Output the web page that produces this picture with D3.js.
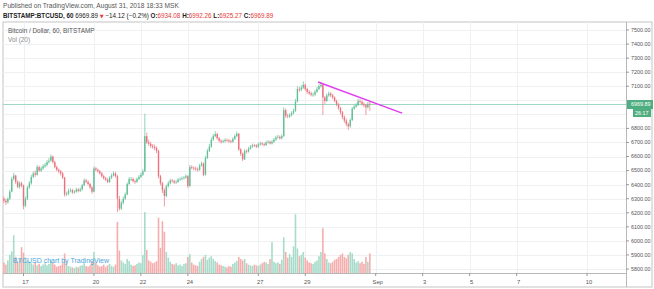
<!DOCTYPE html>
<html>
<head>
<meta charset="utf-8">
<script src="https://cdn.jsdelivr.net/npm/d3@7"></script>
<style>
  body { margin: 0; background: #fff; }
  svg { display: block; font-family: "Liberation Sans", Arial, sans-serif; }
</style>
</head>
<body>
<div id="chart"></div>
<script>
var w = 654;
var h = 289;

// 2 hour candles, first one Aug 16 04:00 UTC
var startTime = Date.UTC(2018, 7, 16, 4);
var firstOpen = 6300;

var closes = [
  6285, 6275, 6300, 6350, 6440, 6465, 6420, 6385, 6410, 6395,
  6250, 6300, 6380, 6410, 6455, 6480, 6470, 6525, 6500, 6515, 6530, 6540,
  6560, 6570, 6600, 6560, 6525, 6505, 6495, 6480, 6450, 6330, 6335, 6355,
  6360, 6345, 6350, 6365, 6355, 6365, 6395, 6430, 6420, 6405, 6380, 6350,
  6515, 6505, 6495, 6480, 6460, 6445, 6435, 6420, 6450, 6465, 6480, 6460,
  6300, 6230, 6270, 6300, 6330, 6405, 6440, 6440, 6425, 6420, 6440, 6455,
  6470, 6495, 6745, 6700, 6690, 6675, 6668, 6660, 6640, 6460, 6410, 6360,
  6320, 6390, 6410, 6430, 6425, 6415, 6420, 6435, 6440, 6445, 6450, 6460,
  6390, 6525, 6520, 6515, 6510, 6505, 6535, 6550, 6470, 6590, 6640, 6670,
  6720, 6745, 6760, 6730, 6712, 6705, 6710, 6718, 6715, 6708, 6705, 6725,
  6745, 6762, 6650, 6620, 6580, 6640, 6635, 6655, 6670, 6680, 6678, 6670,
  6685, 6693, 6688, 6682, 6700, 6705, 6693, 6705, 6720, 6735, 6740, 6730,
  6745, 6930, 6890, 6885, 6895, 6910, 6925, 6990, 7080, 7075, 7090, 7110,
  7080, 7060, 7050, 7040, 7040, 7060, 7080, 7100, 7110, 7020, 6995, 7035,
  7048, 7035, 7020, 6995, 6970, 6945, 6915, 6880, 6855, 6830, 6815, 6860,
  6940, 6955, 6965, 6995, 6990, 6975, 6965, 6950, 6975, 6969.89
];

var highs = [
  6315, 6300, 6310, 6365, 6455, 6485, 6470, 6430, 6425, 6420,
  6400, 6315, 6390, 6425, 6470, 6495, 6500, 6540, 6535, 6530, 6545, 6555,
  6575, 6590, 6615, 6605, 6570, 6535, 6515, 6505, 6490, 6455, 6350, 6370,
  6375, 6370, 6362, 6378, 6375, 6380, 6405, 6445, 6440, 6430, 6412, 6390,
  6530, 6525, 6515, 6505, 6490, 6470, 6455, 6445, 6460, 6478, 6495, 6490,
  6470, 6320, 6285, 6315, 6345, 6415, 6455, 6455, 6450, 6435, 6452, 6468,
  6485, 6510, 6905, 6770, 6720, 6705, 6690, 6685, 6672, 6648, 6470, 6420,
  6375, 6400, 6425, 6442, 6440, 6435, 6432, 6448, 6452, 6458, 6462, 6475,
  6468, 6540, 6538, 6530, 6528, 6522, 6548, 6565, 6558, 6605, 6655, 6690,
  6735, 6760, 6780, 6768, 6740, 6722, 6722, 6730, 6728, 6725, 6718, 6738,
  6758, 6778, 6768, 6660, 6628, 6652, 6650, 6668, 6682, 6692, 6690, 6688,
  6698, 6705, 6702, 6698, 6712, 6718, 6712, 6718, 6732, 6748, 6755, 6750,
  6758, 6950, 6940, 6905, 6908, 6922, 6940, 7010, 7100, 7095, 7108, 7135,
  7118, 7090, 7072, 7062, 7055, 7075, 7095, 7115, 7130, 7118, 7030, 7048,
  7062, 7058, 7045, 7028, 7005, 6980, 6955, 6925, 6892, 6868, 6842, 6872,
  6952, 6968, 6980, 7012, 7008, 6998, 6985, 6975, 6988, 6992.26
];

var lows = [
  6270, 6255, 6265, 6290, 6345, 6430, 6405, 6375, 6370, 6380,
  6225, 6240, 6290, 6370, 6400, 6445, 6455, 6465, 6490, 6490, 6505, 6520,
  6530, 6550, 6565, 6550, 6515, 6495, 6480, 6465, 6440, 6315, 6320, 6325,
  6345, 6335, 6335, 6342, 6345, 6348, 6358, 6390, 6410, 6395, 6370, 6335,
  6345, 6495, 6485, 6470, 6450, 6435, 6425, 6410, 6412, 6440, 6458, 6450,
  6205, 6215, 6220, 6260, 6290, 6325, 6395, 6425, 6415, 6405, 6412, 6432,
  6448, 6462, 6490, 6690, 6675, 6660, 6655, 6645, 6625, 6445, 6395, 6340,
  6245, 6310, 6380, 6400, 6415, 6405, 6405, 6412, 6428, 6430, 6436, 6442,
  6375, 6385, 6508, 6502, 6498, 6492, 6498, 6528, 6460, 6465, 6582, 6632,
  6662, 6712, 6738, 6720, 6700, 6692, 6695, 6700, 6705, 6698, 6694, 6698,
  6718, 6738, 6640, 6605, 6568, 6575, 6622, 6628, 6648, 6662, 6668, 6660,
  6662, 6678, 6678, 6672, 6675, 6692, 6685, 6686, 6698, 6712, 6728, 6720,
  6722, 6740, 6875, 6872, 6875, 6885, 6900, 6918, 6985, 7060, 7065, 7080,
  7068, 7045, 7038, 7028, 7025, 7032, 7052, 7072, 7090, 6895, 6975, 6988,
  7025, 7022, 7008, 6985, 6958, 6932, 6900, 6865, 6840, 6815, 6790, 6805,
  6852, 6932, 6945, 6958, 6978, 6962, 6950, 6895, 6940, 6925.27
];

var volumes = [
  150, 120, 180, 260, 310, 540, 230, 160, 200, 370,
  290, 220, 180, 160, 140, 120, 150, 110, 130, 100, 120, 140,
  110, 130, 180, 150, 120, 90, 100, 110, 140, 280, 150, 100,
  90, 80, 70, 90, 80, 100, 110, 140, 100, 90, 110, 170,
  300, 150, 110, 90, 100, 120, 90, 110, 130, 100, 90, 120,
  730, 320, 180, 150, 130, 200, 170, 120, 100, 110, 130, 150,
  140, 260, 870, 330, 180, 160, 140, 150, 170, 790, 360, 740,
  590, 300, 220, 160, 130, 120, 140, 110, 120, 100, 130, 140,
  230, 270, 150, 120, 110, 100, 160, 200, 230, 260, 190, 220,
  240, 200, 170, 150, 120, 110, 100, 90, 80, 100, 90, 130,
  150, 170, 230, 200, 180, 200, 140, 120, 110, 100, 120, 110,
  100, 120, 140, 160, 150, 130, 200, 440, 160, 140, 150, 130,
  190, 510, 300, 220, 270, 230, 380, 840, 350, 240, 260, 300,
  220, 180, 150, 140, 130, 160, 180, 240, 300, 640, 280, 200,
  150, 140, 160, 190, 200, 230, 260, 280, 230, 210, 260, 300,
  280, 200, 150, 170, 140, 160, 130, 230, 160, 280
];

var priceTicks = [7500, 7400, 7300, 7200, 7100, 7000, 6900, 6800, 6700, 6600,
  6500, 6400, 6300, 6200, 6100, 6000, 5900, 5800];

var dateTicks = [
  Date.UTC(2018, 7, 17), Date.UTC(2018, 7, 20), Date.UTC(2018, 7, 22),
  Date.UTC(2018, 7, 24), Date.UTC(2018, 7, 27), Date.UTC(2018, 7, 29),
  Date.UTC(2018, 8, 1), Date.UTC(2018, 8, 3), Date.UTC(2018, 8, 5),
  Date.UTC(2018, 8, 7), Date.UTC(2018, 8, 10)
];
var dateLabels = ["17", "20", "22", "24", "27", "29", "Sep", "3", "5", "7", "10"];

var lastPrice = 6969.89;
var trendTimes = [Date.UTC(2018, 7, 29, 13), Date.UTC(2018, 8, 2, 3)];
var trendPrices = [7130, 6909];

// pane geometry (not "top": that one belongs to window)
var paneL = 3, paneR = 626, paneT = 22, paneB = 273;

var svg = d3.select("#chart").append("svg")
  .attr("width", w)
  .attr("height", h);

var xScale = d3.scaleUtc()
  .domain([Date.UTC(2018, 7, 17), Date.UTC(2018, 8, 1)])
  .range([23.5, 375.7]);

var yScale = d3.scaleLinear()
  .domain([5800, 7500])
  .range([269, 30]);

var vScale = d3.scaleLinear()
  .domain([0, 1000])
  .range([paneB, paneB - 70]);

var candles = closes.map(function (c, i) {
  return {
    t: new Date(startTime + i * 2 * 3600 * 1000),
    o: i == 0 ? firstOpen : closes[i - 1], // open is the close before
    h: highs[i],
    l: lows[i],
    c: c,
    v: volumes[i]
  };
});

function upColor(d) { return d.c >= d.o ? "#62c097" : "#ec717d"; }

// header
svg.append("text")
  .attr("x", 3).attr("y", 8)
  .attr("font-size", "6.6px")
  .attr("fill", "#555")
  .text("Published on TradingView.com, August 31, 2018 18:33 MSK");

var head = svg.append("text")
  .attr("x", 3).attr("y", 17.5)
  .attr("font-size", "6.3px")
  .attr("fill", "#222");
head.append("tspan").attr("font-weight", "bold").text("BITSTAMP:BTCUSD, 60 ");
head.append("tspan").text("6969.89 ");
head.append("tspan").attr("fill", "#e53935").attr("font-family", "DejaVu Sans").attr("font-size", "5px").text("\u25BC");
head.append("tspan").text(" \u221214.12 (\u22120.2%) ");
var ohlc = [["O:", "6934.08"], ["H:", "6992.26"], ["L:", "6925.27"], ["C:", "6969.89"]];
ohlc.forEach(function (p) {
  head.append("tspan").attr("font-weight", "bold").text(p[0]);
  head.append("tspan").attr("fill", "#e53935").text(p[1] + " ");
});

// frame
svg.append("rect")
  .attr("x", paneL).attr("y", paneT)
  .attr("width", 652 - paneL).attr("height", 287 - paneT)
  .attr("fill", "none")
  .attr("stroke", "#c4c4c4")
  .attr("stroke-width", 1);

// grid
svg.selectAll(".hgrid")
  .data(priceTicks)
  .join("line")
  .attr("class", "hgrid")
  .attr("x1", paneL).attr("x2", paneR)
  .attr("y1", function (d) { return Math.round(yScale(d)) + 0.5; })
  .attr("y2", function (d) { return Math.round(yScale(d)) + 0.5; })
  .attr("stroke", "#eef0f4");

svg.selectAll(".vgrid")
  .data(dateTicks)
  .join("line")
  .attr("class", "vgrid")
  .attr("x1", function (d) { return Math.round(xScale(d)) + 0.5; })
  .attr("x2", function (d) { return Math.round(xScale(d)) + 0.5; })
  .attr("y1", paneT).attr("y2", paneB)
  .attr("stroke", "#eef0f4");

// legend text
svg.append("text")
  .attr("x", 8).attr("y", 33)
  .attr("font-size", "6.4px").attr("fill", "#555")
  .text("Bitcoin / Dollar, 60, BITSTAMP");
svg.append("text")
  .attr("x", 8).attr("y", 41.5)
  .attr("font-size", "6.4px").attr("fill", "#8a8a8a")
  .text("Vol (20)");

svg.append("clipPath").attr("id", "clip")
  .append("rect").attr("x", paneL).attr("y", paneT)
  .attr("width", paneR - paneL).attr("height", paneB - paneT);
var pane = svg.append("g").attr("clip-path", "url(#clip)");

// volume
pane.selectAll(".vol")
  .data(candles)
  .join("rect")
  .attr("class", "vol")
  .attr("x", function (d) { return xScale(d.t) - 0.8; })
  .attr("width", 1.6)
  .attr("y", function (d) { return vScale(d.v); })
  .attr("height", function (d) { return paneB - vScale(d.v); })
  .attr("fill", function (d) { return d.c >= d.o ? "#a6dcc9" : "#f5aeae"; });

// last price line
pane.append("line")
  .attr("x1", paneL).attr("x2", paneR)
  .attr("y1", yScale(lastPrice)).attr("y2", yScale(lastPrice))
  .attr("stroke", "#9fd8c3")
  .attr("stroke-width", 1);

// candles
pane.selectAll(".wick")
  .data(candles)
  .join("line")
  .attr("class", "wick")
  .attr("x1", function (d) { return xScale(d.t); })
  .attr("x2", function (d) { return xScale(d.t); })
  .attr("y1", function (d) { return yScale(d.h); })
  .attr("y2", function (d) { return yScale(d.l); })
  .attr("stroke", upColor)
  .attr("stroke-width", 0.7);

pane.selectAll(".body")
  .data(candles)
  .join("rect")
  .attr("class", "body")
  .attr("x", function (d) { return xScale(d.t) - 0.7; })
  .attr("width", 1.4)
  .attr("y", function (d) { return yScale(Math.max(d.o, d.c)); })
  .attr("height", function (d) { return Math.max(0.6, Math.abs(yScale(d.o) - yScale(d.c))); })
  .attr("fill", upColor);

// trend line
pane.append("line")
  .attr("x1", xScale(trendTimes[0])).attr("y1", yScale(trendPrices[0]))
  .attr("x2", xScale(trendTimes[1])).attr("y2", yScale(trendPrices[1]))
  .attr("stroke", "#e23cf0")
  .attr("stroke-width", 1.4);

// watermark
svg.append("text")
  .attr("x", 13).attr("y", 263)
  .attr("font-size", "7px").attr("fill", "#4aa5e0")
  .text("BTCUSD chart by TradingView");

// axis lines
svg.append("line")
  .attr("x1", paneR + 0.5).attr("x2", paneR + 0.5)
  .attr("y1", paneT).attr("y2", 287)
  .attr("stroke", "#b8b8b8");
svg.append("line")
  .attr("x1", paneL).attr("x2", paneR)
  .attr("y1", paneB + 0.5).attr("y2", paneB + 0.5)
  .attr("stroke", "#b8b8b8");

// price axis labels (7000 and 6900 sit under the last price tags)
var shown = priceTicks.filter(function (d) { return d != 7000 && d != 6900; });
svg.selectAll(".ptick")
  .data(shown)
  .join("line")
  .attr("class", "ptick")
  .attr("x1", paneR).attr("x2", paneR + 3)
  .attr("y1", function (d) { return yScale(d); })
  .attr("y2", function (d) { return yScale(d); })
  .attr("stroke", "#999");
svg.selectAll(".plabel")
  .data(shown)
  .join("text")
  .attr("class", "plabel")
  .attr("x", 631)
  .attr("y", function (d) { return yScale(d); })
  .attr("dy", "0.35em")
  .attr("font-size", "5.4px")
  .attr("fill", "#555")
  .text(function (d) { return d3.format(".2f")(d); });

// time axis labels
svg.selectAll(".dtick")
  .data(dateTicks)
  .join("line")
  .attr("class", "dtick")
  .attr("x1", function (d) { return xScale(d); })
  .attr("x2", function (d) { return xScale(d); })
  .attr("y1", paneB).attr("y2", paneB + 3)
  .attr("stroke", "#999");
svg.selectAll(".dlabel")
  .data(dateTicks)
  .join("text")
  .attr("class", "dlabel")
  .attr("x", function (d) { return xScale(d) + 2; })
  .attr("y", 284)
  .attr("text-anchor", "middle")
  .attr("font-size", "5.8px")
  .attr("fill", "#555")
  .text(function (d, i) { return dateLabels[i]; });

// last price and countdown tags
var ly = yScale(lastPrice);
svg.append("rect")
  .attr("x", paneR + 1).attr("y", ly - 4.5)
  .attr("width", 26).attr("height", 9)
  .attr("fill", "#4fae80");
svg.append("text")
  .attr("x", 631).attr("y", ly).attr("dy", "0.35em")
  .attr("font-size", "5.4px").attr("fill", "#fff")
  .text(d3.format(".2f")(lastPrice));
svg.append("rect")
  .attr("x", 633).attr("y", ly + 4.5)
  .attr("width", 18).attr("height", 8)
  .attr("fill", "#4fae80");
svg.append("text")
  .attr("x", 635).attr("y", ly + 8.5).attr("dy", "0.35em")
  .attr("font-size", "5.4px").attr("fill", "#fff")
  .text("26:17");
</script>
</body>
</html>
